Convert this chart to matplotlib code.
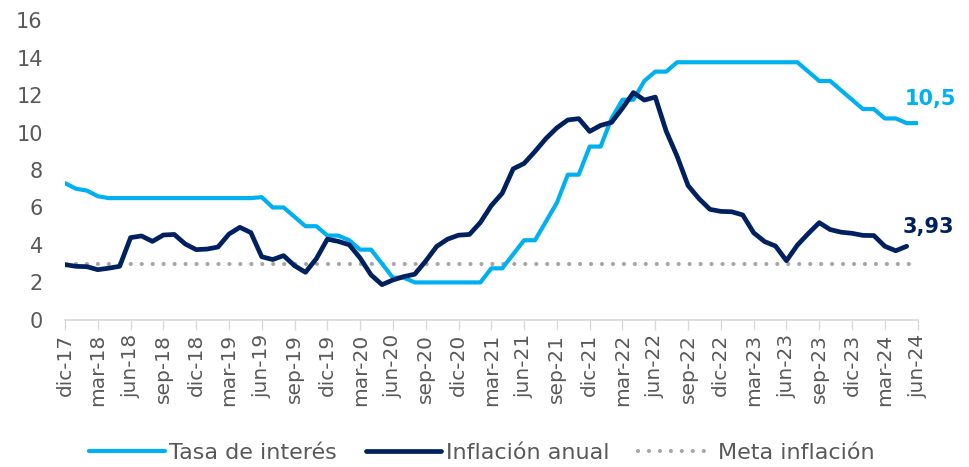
import matplotlib

matplotlib.use("Agg")

import matplotlib.pyplot as plt
import numpy as np

# monthly, dic-17 .. jun-24
n_months = 79
tick_labels = ["dic-17", "mar-18", "jun-18", "sep-18", "dic-18", "mar-19", "jun-19", "sep-19",
               "dic-19", "mar-20", "jun-20", "sep-20", "dic-20", "mar-21", "jun-21", "sep-21",
               "dic-21", "mar-22", "jun-22", "sep-22", "dic-22", "mar-23", "jun-23", "sep-23",
               "dic-23", "mar-24", "jun-24"]

tasa = [7.3, 7.0, 6.9, 6.6, 6.5, 6.5, 6.5, 6.5, 6.5, 6.5, 6.5, 6.5, 6.5,
        6.5, 6.5, 6.5, 6.5, 6.5, 6.55, 6.0, 6.0, 5.5, 5.0, 5.0, 4.5,
        4.5, 4.25, 3.75, 3.75, 3.0, 2.25, 2.25, 2.0, 2.0, 2.0, 2.0, 2.0,
        2.0, 2.0, 2.75, 2.75, 3.5, 4.25, 4.25, 5.25, 6.25, 7.75, 7.75, 9.25,
        9.25, 10.75, 11.75, 11.75, 12.75, 13.25, 13.25, 13.75, 13.75, 13.75, 13.75, 13.75,
        13.75, 13.75, 13.75, 13.75, 13.75, 13.75, 13.75, 13.25, 12.75, 12.75, 12.25, 11.75,
        11.25, 11.25, 10.75, 10.75, 10.5, 10.5]

inflacion = [2.95, 2.86, 2.84, 2.68, 2.76, 2.86, 4.39, 4.48, 4.19, 4.53, 4.56, 4.05, 3.75,
             3.78, 3.89, 4.58, 4.94, 4.66, 3.37, 3.22, 3.43, 2.89, 2.54, 3.27, 4.31,
             4.19, 4.01, 3.30, 2.40, 1.88, 2.13, 2.31, 2.44, 3.14, 3.92, 4.31, 4.52,
             4.56, 5.20, 6.10, 6.76, 8.06, 8.35, 8.99, 9.68, 10.25, 10.67, 10.74, 10.06,
             10.38, 10.54, 11.30, 12.13, 11.73, 11.89, 10.07, 8.73, 7.17, 6.47, 5.90, 5.79,
             5.77, 5.60, 4.65, 4.18, 3.94, 3.16, 3.99, 4.61, 5.19, 4.82, 4.68, 4.62,
             4.51, 4.50, 3.93, 3.69, 3.93]

meta = [3.0] * n_months

BLUE = "#00B0F0"
NAVY = "#002060"
GREY = "#A6A6A6"
TEXT = "#595959"

plt.rcParams["font.family"] = "DejaVu Sans"

fig = plt.figure(figsize=(9.7, 4.67), dpi=100)
ax = fig.add_axes([0.067, 0.315, 0.879, 0.642])

x = np.arange(n_months)
ax.plot(x, tasa, color=BLUE, lw=3.0, solid_joinstyle="round", solid_capstyle="round",
        label="Tasa de interés", zorder=3)
ax.plot(x[:len(inflacion)], inflacion, color=NAVY, lw=3.4, solid_joinstyle="round",
        solid_capstyle="round", label="Inflación anual", zorder=4)
ax.plot(x, meta, color=GREY, lw=3.0, linestyle=(0, (0.01, 2.62)), dash_capstyle="round",
        label="Meta inflación", zorder=2)

ax.text(76.8, tasa[-1] + 1.3, "10,5", color=BLUE, fontsize=15, fontweight="bold",
        ha="left", va="center")
ax.text(76.6, inflacion[-1] + 1.05, "3,93", color=NAVY, fontsize=15, fontweight="bold",
        ha="left", va="center")

ax.set_xlim(0, n_months - 1)
ax.set_ylim(0, 16)
ax.set_yticks(range(0, 17, 2))
ax.set_xticks(range(0, n_months, 3))
ax.set_xticklabels(tick_labels, rotation=90)
ax.tick_params(axis="y", length=0, pad=16, labelsize=15, labelcolor=TEXT)
ax.tick_params(axis="x", length=7, width=1, color="#D9D9D9", pad=3, labelsize=14.5,
               labelcolor=TEXT)
for side in ["left", "right", "top"]:
    ax.spines[side].set_visible(False)
ax.spines["bottom"].set_color("#D9D9D9")
ax.spines["bottom"].set_linewidth(1.2)

fig.legend(loc="center", bbox_to_anchor=(0.497, 0.03), ncol=3, frameon=False,
           fontsize=16, handlelength=3.4, handletextpad=0.2, columnspacing=1.3,
           labelcolor=TEXT)

fig.savefig("out.png", dpi=100)
